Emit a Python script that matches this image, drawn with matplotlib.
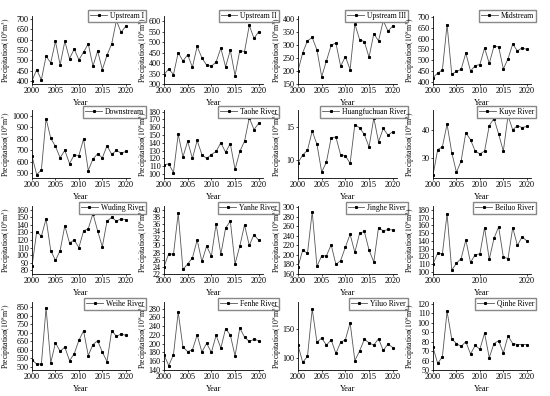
import matplotlib
matplotlib.use("Agg")
import matplotlib.pyplot as plt
import numpy as np

years = np.arange(2000, 2021)

names = ["Upstream I", "Upstream II", "Upstream III", "Midstream",
         "Downstream", "Taohe River", "Huangfuchuan River", "Kuye River",
         "Wuding River", "Yanhe River", "Jinghe River", "Beiluo River",
         "Weihe River", "Fenhe River", "Yiluo River", "Qinhe River"]

upstream_1 = [400, 455, 405, 520, 488, 592, 478, 592, 508, 555, 502, 540, 580, 472, 545, 455, 525, 580, 693, 636, 665]
upstream_2 = [345, 372, 345, 450, 410, 440, 380, 480, 425, 390, 385, 405, 472, 382, 462, 340, 460, 455, 580, 518, 550]
upstream_3 = [200, 270, 315, 328, 280, 178, 238, 298, 307, 218, 255, 205, 380, 320, 312, 252, 342, 315, 392, 352, 372]
midstream = [420, 440, 455, 665, 435, 448, 458, 533, 450, 475, 480, 557, 485, 565, 562, 460, 507, 575, 543, 558, 550]
downstream = [650, 490, 530, 975, 805, 735, 635, 700, 585, 660, 655, 800, 525, 625, 670, 635, 740, 665, 700, 675, 690]
taohe = [112, 113, 102, 151, 122, 142, 120, 143, 125, 120, 125, 129, 140, 128, 139, 106, 129, 142, 172, 157, 165]
huangfuchuan = [9.6, 10.8, 11.5, 14.4, 12.4, 8.2, 9.7, 13.4, 13.5, 10.8, 10.7, 9.5, 15.4, 14.9, 13.9, 12.0, 16.4, 12.8, 14.8, 13.8, 14.3]
kuye = [24, 33, 34, 42, 32, 25, 29, 39, 36.5, 32.5, 31.5, 32.5, 41.5, 44, 38.5, 32.5, 45, 40, 41.5, 40.8, 41.2]
wuding = [85, 131, 125, 148, 106, 93, 106, 139, 116, 120, 110, 132, 135, 155, 132, 111, 145, 150, 145, 148, 147]
yanhe = [24, 27.7, 27.5, 39, 23.3, 24.8, 26.5, 31.5, 25.5, 29.8, 27, 36, 27.5, 34.8, 36.8, 24.8, 29.8, 35.7, 30, 33, 31.4]
jinghe = [175, 210, 203, 290, 176, 198, 198, 221, 180, 188, 216, 243, 205, 245, 249, 210, 185, 257, 250, 253, 252]
beiluo = [110, 124, 123, 175, 102, 111, 117, 141, 112, 122, 123, 157, 116, 143, 158, 119, 117, 157, 134, 145, 140]
weihe = [540, 515, 515, 845, 522, 640, 590, 615, 535, 575, 655, 710, 565, 630, 652, 585, 530, 712, 678, 692, 684]
fenhe = [175, 150, 175, 272, 192, 182, 186, 220, 181, 201, 180, 219, 190, 234, 220, 172, 236, 215, 205, 210, 207]
yiluo = [122, 93, 103, 183, 127, 134, 122, 131, 108, 127, 131, 160, 96, 112, 132, 126, 122, 133, 113, 124, 118]
qinhe = [74, 57, 64, 112, 83, 78, 75, 80, 67, 76, 72, 89, 63, 78, 81, 68, 86, 78, 77, 77, 77]

series = [upstream_1, upstream_2, upstream_3, midstream,
          downstream, taohe, huangfuchuan, kuye,
          wuding, yanhe, jinghe, beiluo,
          weihe, fenhe, yiluo, qinhe]

ylims = [(385, 715), (300, 625), (150, 410), (390, 705),
         (460, 1050), (95, 182), (7.3, 17.6), (23, 47),
         (75, 165), (22, 41), (160, 302), (97, 185),
         (480, 880), (140, 295), (80, 195), (50, 122)]

yticks = [np.arange(400, 701, 50), np.arange(300, 601, 50), np.arange(150, 401, 50), np.arange(400, 701, 50),
          np.arange(500, 1001, 100), np.arange(100, 181, 10), [10, 15], [30, 40],
          np.arange(80, 161, 10), np.arange(22, 41, 2), np.arange(160, 301, 20), np.arange(100, 181, 10),
          np.arange(500, 851, 50), np.arange(140, 281, 20), [100, 150], np.arange(50, 121, 10)]

plt.rcParams["font.family"] = ["Liberation Serif", "DejaVu Serif"]
plt.rcParams["mathtext.fontset"] = "stix"

W, H = 550, 396
fig = plt.figure(figsize=(W / 100, H / 100), dpi=100)

# pixel layout
col_left = [32, 164, 298, 433]
col_w = [98, 99, 99, 98]
row_bottom = [84, 178, 274, 370]
ah = 68
leg_right = [146, 279, 408, 536]
leg_top = [10, 106, 202, 298]
ylab_right = [13, 150, 283.5, 417]

for i, (name, vals) in enumerate(zip(names, series)):
    r, c = divmod(i, 4)
    ax = fig.add_axes([col_left[c] / W, 1 - row_bottom[r] / H, col_w[c] / W, ah / H])
    ax.plot(years, vals, color="#555555", linewidth=0.6, marker="s", markersize=1.2,
            markerfacecolor="black", markeredgecolor="black", label=name)
    ax.set_xlim(2000, 2020.9)
    ax.set_ylim(*ylims[i])
    ax.set_yticks(yticks[i])
    if name == "Beiluo River":
        ax.set_xticks([2000, 2010, 2020])
    else:
        ax.set_xticks([2000, 2005, 2010, 2015, 2020])
    for s in ["top", "right"]:
        ax.spines[s].set_visible(False)
    for s in ["left", "bottom"]:
        ax.spines[s].set_linewidth(0.6)
    ax.tick_params(labelsize=5.9, width=0.5, length=1.5, pad=0.8)
    ax.set_xlabel("Year", fontsize=6, labelpad=3)
    ax.set_ylabel(r"Precipitation$(10^8$m$^3)$", fontsize=5.5)
    ax.yaxis.set_label_coords((ylab_right[c] - col_left[c]) / col_w[c], 0.5)
    ax.legend(loc="upper right", bbox_to_anchor=(leg_right[c] / W, 1 - leg_top[r] / H),
              bbox_transform=fig.transFigure, fontsize=5.5,
              frameon=True, fancybox=False, edgecolor="#888888", framealpha=1,
              handlelength=2.2, borderpad=0.25, handletextpad=0.4, borderaxespad=0)

fig.savefig("out.png", dpi=100)
